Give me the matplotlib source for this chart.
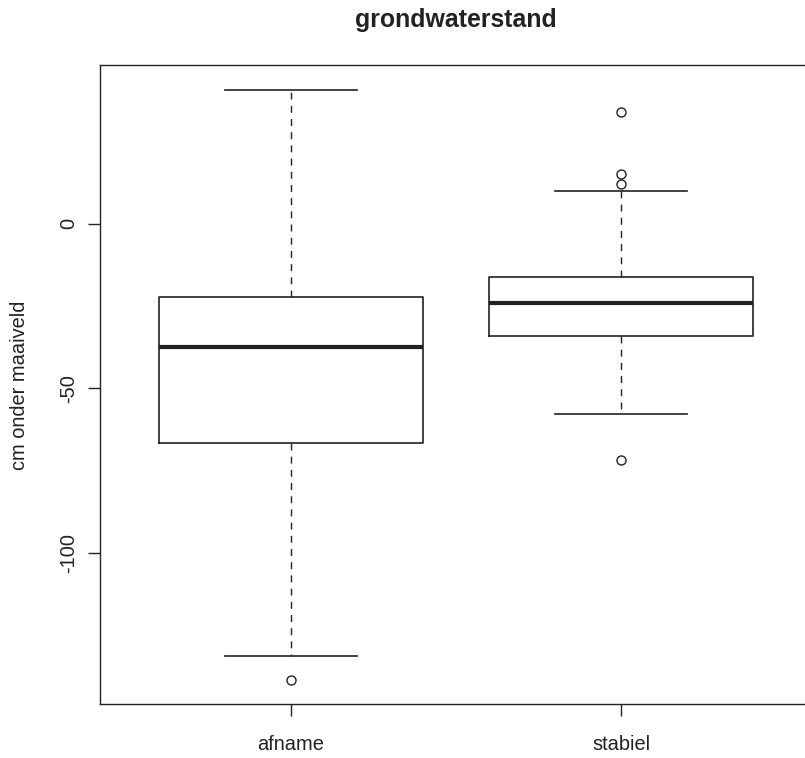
import matplotlib
matplotlib.use("Agg")
import matplotlib.pyplot as plt

plt.rcParams["font.family"] = ["Liberation Sans", "DejaVu Sans"]

# box statistics (cm)
groups = ["afname", "stabiel"]
whishi = [40.6, 9.9]
q3 = [-22.2, -16.3]
med = [-37.5, -24.2]
q1 = [-66.5, -34.0]
whislo = [-131.3, -57.8]
fliers = [[-138.6], [33.9, 15.1, 12.1, -71.9]]

yticks = [-100, -50, 0]

INK = "#222222"
W, H = 805, 758


def main():
    fig = plt.figure(figsize=(W / 100, H / 100), dpi=100)
    # plot box runs past the right edge of the image, as in the reference
    ax = fig.add_axes([100 / W, (H - 704) / H, 712 / W, (704 - 65) / H])

    stats = []
    for i, name in enumerate(groups):
        stats.append({
            "label": name, "med": med[i], "q1": q1[i], "q3": q3[i],
            "whislo": whislo[i], "whishi": whishi[i], "fliers": fliers[i],
        })

    ax.bxp(
        stats, positions=[1, 2], widths=0.8, capwidths=0.4,
        boxprops=dict(color=INK, linewidth=1.2),
        medianprops=dict(color=INK, linewidth=3.0, solid_capstyle="butt"),
        whiskerprops=dict(color=INK, linewidth=1.0, linestyle=(0, (5, 4.5))),
        capprops=dict(color=INK, linewidth=1.2),
        flierprops=dict(marker="o", markersize=6.5, markerfacecolor="none",
                        markeredgecolor=INK, markeredgewidth=1.0),
    )

    ax.set_xlim(1 - 191 / 330, 2 + 191 / 330)
    ax.set_ylim(-145.9, 48.2)
    ax.set_yticks(yticks)
    ax.set_yticklabels([str(v) for v in yticks], rotation=90, va="center")
    ax.set_xticks([1, 2])
    ax.set_xticklabels(groups)

    for s in ax.spines.values():
        s.set_color(INK)
        s.set_linewidth(1.0)
    ax.tick_params(axis="both", direction="out", length=8.6, width=1.0,
                   color=INK, labelsize=14.4, labelcolor=INK)
    ax.tick_params(axis="y", pad=7)
    ax.tick_params(axis="x", pad=14)

    fig.text(456 / W, 1 - 27 / H, "grondwaterstand", ha="center",
             va="baseline", fontsize=17.9, fontweight="bold", color=INK)
    fig.text(20 / W, 1 - 385.5 / H, "cm onder maaiveld", ha="center",
             va="center", rotation=90, fontsize=14.4, color=INK)

    fig.savefig("out.png", dpi=100)
    plt.close(fig)


if __name__ == "__main__":
    main()
